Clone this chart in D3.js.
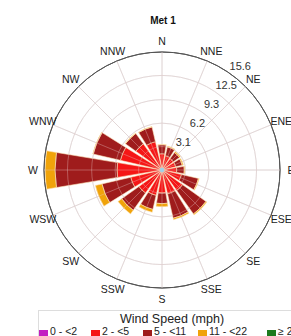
<!DOCTYPE html>
<html><head><meta charset="utf-8">
<script src="https://cdn.jsdelivr.net/npm/d3@7"></script>
<style>
html,body{margin:0;padding:0;background:#fff;overflow:hidden;}
svg{display:block;font-family:"Liberation Sans",Arial,sans-serif;}
</style></head>
<body>
<svg id="c" width="291" height="336"></svg>
<script>
const title = "Met 1";
const directions = ["N","NNE","NE","ENE","E","ESE","SE","SSE","S","SSW","SW","WSW","W","WNW","NW","NNW"];
const speedBins = ["0 - <2","2 - <5","5 - <11","11 - <22","\u2265 22"];
const binColors = ["#c21fc2","#f51616","#9f1c1c","#f0a30a","#1d7a1d"];
// frequency (%) per direction, per speed bin
const s0_2   = [0.05,0.05,0.05,0.05,0.05,0.05,0.05,0.05,0.05,0.05,0.05,0.05,0.05,0.05,0.05,0.05];
const s2_5   = [2.1,1.9,1.8,1.8,1.9,2.6,3.3,3.2,3.0,3.4,3.7,4.2,5.9,5.6,4.2,3.8];
const s5_11  = [1.2,1.2,1.0,0.9,1.0,2.3,3.8,3.3,1.4,1.9,2.8,3.9,8.2,3.7,1.7,2.0];
const s11_22 = [0.05,0.1,0.15,0.15,0.1,0.1,0.15,0.2,0.4,0.4,0.6,0.9,1.3,0.05,0.05,0.05];
const s22up  = [0,0,0,0,0,0,0,0,0,0,0,0,0,0,0,0];
const ringTicks = [3.1,6.2,9.3,12.5,15.6];
const legendTitle = "Wind Speed (mph)";

const series = [s0_2,s2_5,s5_11,s11_22,s22up];
const svg = d3.select("#c");
const cx = 162, cy = 170, R = 118;
const r = d3.scaleLinear().domain([0,15.6]).range([0,R]);
const ang = d3.scaleBand().domain(directions).range([-Math.PI/16, 2*Math.PI - Math.PI/16]).paddingInner(0.16).paddingOuter(0.08);
const g = svg.append("g").attr("transform",`translate(${cx},${cy})`);

svg.append("text").attr("x",cx+1).attr("y",24).attr("text-anchor","middle")
  .attr("font-size",10).attr("font-weight","bold").attr("fill","#111").text(title);

function grid(layer, stroke, op){
  ringTicks.forEach((t,i)=>{
    layer.append("circle").attr("r",r(t)).attr("fill","none")
      .attr("stroke", i===ringTicks.length-1 ? "#555" : stroke)
      .attr("stroke-width", i===ringTicks.length-1 ? 1 : 0.8).attr("opacity", i===ringTicks.length-1?1:op);
  });
  directions.forEach((d,i)=>{
    const a = i*Math.PI/8;
    layer.append("line").attr("x1",0).attr("y1",0)
      .attr("x2",R*Math.sin(a)).attr("y2",-R*Math.cos(a))
      .attr("stroke",stroke).attr("stroke-width",0.8).attr("opacity",op);
  });
}
grid(g.append("g"), "#d8d8d8", 1);

// stacked bars
const arc = d3.arc();
const barsG = g.append("g");
directions.forEach((d,i)=>{
  let acc = 0;
  const a0 = ang(d), a1 = ang(d)+ang.bandwidth();
  series.forEach((s,k)=>{
    const v = s[i];
    if(v<=0) return;
    barsG.append("path").attr("d", arc({innerRadius:r(acc), outerRadius:r(acc+v), startAngle:a0, endAngle:a1}))
      .attr("fill",binColors[k]).attr("stroke","#fbe3b8").attr("stroke-width",0.6);
    acc += v;
  });
});
grid(g.append("g"), "#e8c8c8", 0.45);
g.append("circle").attr("r",2.2).attr("fill","#9fd3ea");

// ring labels
ringTicks.forEach(t=>{
  const a = 37*Math.PI/180, rr = r(t)+12;
  svg.append("text").attr("x",cx+rr*Math.sin(a)).attr("y",cy-rr*Math.cos(a))
    .attr("text-anchor","middle").attr("dominant-baseline","central")
    .attr("font-size",11).attr("fill","#333").text(t);
});
// direction labels
directions.forEach((d,i)=>{
  const a = i*Math.PI/8, rr = 129;
  svg.append("text").attr("x",cx+rr*Math.sin(a)).attr("y",cy-rr*Math.cos(a))
    .attr("text-anchor","middle").attr("dominant-baseline","central")
    .attr("font-size",10.5).attr("fill","#222").text(d);
});

// legend
svg.append("rect").attr("x",38.5).attr("y",310.5).attr("width",270).attr("height",40)
  .attr("fill","#fff").attr("stroke","#ddd");
svg.append("text").attr("x",172).attr("y",323).attr("text-anchor","middle")
  .attr("font-size",12.5).attr("fill","#222").text(legendTitle);
const legX = [39,91,143,198,267];
speedBins.forEach((b,k)=>{
  svg.append("rect").attr("x",legX[k]).attr("y",330).attr("width",9).attr("height",6).attr("fill",binColors[k]);
  svg.append("text").attr("x",legX[k]+11).attr("y",335).attr("font-size",10.5).attr("fill","#222").text(b);
});
</script>
</body></html>
